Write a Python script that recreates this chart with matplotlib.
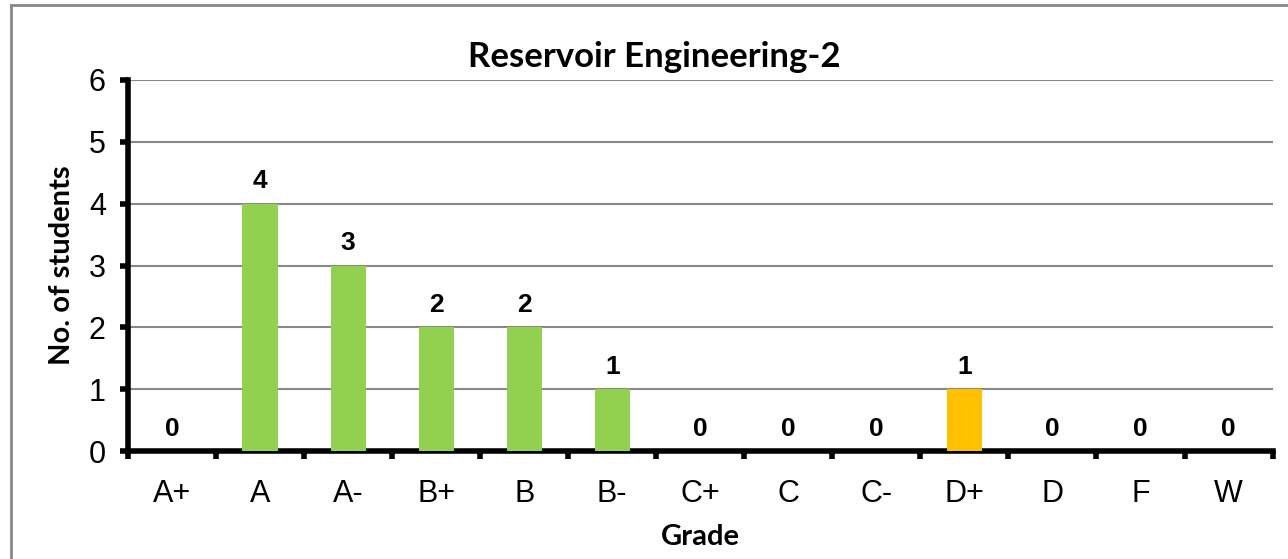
import matplotlib.pyplot as plt
from matplotlib.lines import Line2D

# grade distribution
grades = ['A+', 'A', 'A-', 'B+', 'B', 'B-', 'C+', 'C', 'C-', 'D+', 'D', 'F', 'W']
students = [0, 4, 3, 2, 2, 1, 0, 0, 0, 1, 0, 0, 0]
bar_colors = ['#92D050'] * 9 + ['#FFC000'] + ['#92D050'] * 3

fig = plt.figure(figsize=(12.88, 5.59), dpi=100)
ax = fig.add_axes([0.0994, 0.193, 0.8886, 0.664])

x = list(range(len(grades)))
ax.bar(x, students, width=0.4, color=bar_colors, zorder=3)

for xi, v in zip(x, students):
    ax.text(xi, v + 0.17, str(v), ha='center', va='bottom',
            fontsize=19, fontweight='bold', family='Liberation Sans')

ax.set_xlim(-0.5, len(grades) - 0.5)
ax.set_ylim(0, 6)
ax.set_yticks(range(0, 7))
ax.yaxis.grid(True, color='#888888', linewidth=1.5, zorder=0)

ax.set_xticks(x)
ax.set_xticklabels(grades, family='Liberation Sans', fontsize=22)
ax.tick_params(axis='x', which='major', length=0, pad=20)
ax.set_xticks([i - 0.5 for i in range(len(grades) + 1)], minor=True)
ax.tick_params(axis='x', which='minor', length=6, width=4, direction='out')
ax.tick_params(axis='y', length=6, width=4, direction='out', pad=10)
for lab in ax.get_yticklabels():
    lab.set_family('Liberation Sans')
    lab.set_fontsize(22)

for s in ['top', 'right']:
    ax.spines[s].set_visible(False)
ax.spines['left'].set_linewidth(4)
ax.spines['bottom'].set_linewidth(4)

ax.set_xlabel('Grade', family='Lato', fontweight='bold', fontsize=21, labelpad=11)
ax.set_ylabel('No. of students', family='Lato', fontweight='bold', fontsize=21, labelpad=10)
ax.set_title('Reservoir Engineering-2', family='Lato', fontweight='bold', fontsize=25,
             x=0.46, pad=9)

# outer chart frame (left and top edges visible)
fig.add_artist(Line2D([0.0085, 0.0085], [0, 0.991], color='#888888', lw=2, transform=fig.transFigure))
fig.add_artist(Line2D([0.0085, 1.0], [0.991, 0.991], color='#888888', lw=2, transform=fig.transFigure))

fig.savefig('out.png', dpi=100)
